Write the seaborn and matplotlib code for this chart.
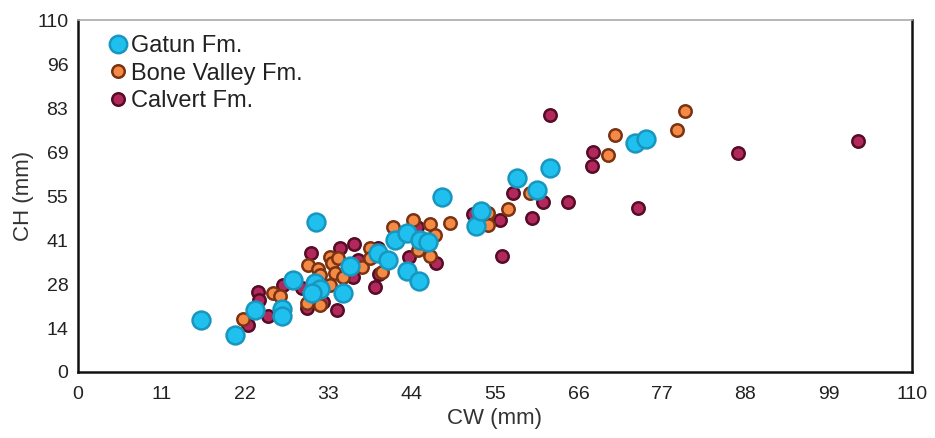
import matplotlib
matplotlib.use("Agg")
import matplotlib.pyplot as plt
import seaborn as sns
import pandas as pd
from matplotlib.lines import Line2D

series_names = ["Gatun Fm.", "Bone Valley Fm.", "Calvert Fm."]

gatun_cw = [16.2, 20.7, 23.4, 26.9, 26.9, 28.4, 31.4, 31.3, 31.9, 30.9, 35.0, 35.9, 39.6, 40.9,
            41.8, 43.4, 43.4, 45.0, 45.1, 46.2, 48.0, 52.5, 53.2, 57.9, 60.6, 62.3, 73.5, 74.9]
gatun_ch = [16.3, 11.6, 19.4, 19.7, 17.5, 28.8, 46.9, 27.8, 25.9, 24.7, 24.7, 33.1, 37.2, 35.0,
            41.3, 43.4, 31.6, 28.4, 41.3, 40.6, 54.7, 45.6, 50.3, 60.6, 56.9, 63.8, 71.6, 72.8]

bone_cw = [21.8, 25.7, 26.6, 30.3, 31.7, 31.9, 33.2, 33.5, 33.9, 33.2, 30.2, 31.9, 34.3, 35.0,
           37.5, 38.5, 38.5, 40.1, 45.8, 41.6, 44.2, 46.4, 49.1, 47.1, 44.9, 46.4, 59.6, 54.1,
           56.7, 54.1, 69.9, 70.8, 79.0, 80.1]
bone_ch = [16.6, 24.7, 23.8, 33.4, 32.2, 30.3, 35.9, 34.1, 30.9, 27.2, 21.6, 20.9, 35.6, 29.7,
           32.8, 38.8, 35.6, 31.3, 39.5, 45.3, 47.5, 46.3, 46.6, 42.8, 38.1, 36.3, 55.9, 49.7,
           50.9, 45.9, 67.8, 74.1, 75.6, 81.6]

calvert_cw = [30.7, 27.0, 29.6, 23.7, 23.9, 32.3, 30.2, 34.2, 25.1, 22.4, 34.6, 36.4, 39.6, 36.9,
              36.3, 39.2, 39.7, 43.7, 44.7, 47.2, 52.1, 55.7, 59.9, 57.4, 61.3, 64.6, 55.9, 67.9,
              67.8, 62.3, 73.9, 87.1, 102.9]
calvert_ch = [37.2, 27.2, 26.3, 25.0, 22.5, 21.9, 20.0, 19.4, 17.5, 14.7, 38.8, 40.0, 38.8, 35.0,
              29.7, 26.6, 30.6, 35.9, 45.3, 34.1, 49.4, 47.5, 48.1, 55.9, 53.1, 53.1, 36.3, 68.8,
              64.4, 80.3, 51.3, 68.4, 72.2]

x_ticks = [0, 11, 22, 33, 44, 55, 66, 77, 88, 99, 110]
y_tick_labels = ["0", "14", "28", "41", "55", "69", "83", "96", "110"]

df = pd.concat([
    pd.DataFrame({"CW": gatun_cw, "CH": gatun_ch, "Formation": series_names[0]}),
    pd.DataFrame({"CW": bone_cw, "CH": bone_ch, "Formation": series_names[1]}),
    pd.DataFrame({"CW": calvert_cw, "CH": calvert_ch, "Formation": series_names[2]}),
])

sns.set_style("white")
plt.rcParams["font.family"] = ["Liberation Sans", "DejaVu Sans"]

fig = plt.figure(figsize=(9.35, 4.38), dpi=100)
ax = fig.add_axes([0.0834, 0.1507, 0.892, 0.8033])

styles = {
    "Gatun Fm.": dict(fc="#1FC0EE", ec="#1796C0", s=165, z=4),
    "Bone Valley Fm.": dict(fc="#F58A47", ec="#7A3312", s=80, z=3),
    "Calvert Fm.": dict(fc="#B3285C", ec="#560C26", s=80, z=2),
}

for name in ["Calvert Fm.", "Bone Valley Fm.", "Gatun Fm."]:
    st = styles[name]
    sns.scatterplot(data=df[df["Formation"] == name], x="CW", y="CH", ax=ax,
                    color=st["fc"], edgecolor=st["ec"], linewidth=1.8, s=st["s"],
                    zorder=st["z"], label=name, legend=False)

ax.set_xlim(0, 110)
ax.set_ylim(0, 110)
ax.set_xticks(x_ticks)
ax.set_xticklabels([str(t) for t in x_ticks])
y_pos = [110 / 8 * i for i in range(9)]
ax.set_yticks(y_pos)
ax.set_yticklabels(y_tick_labels)
ax.tick_params(axis="x", direction="in", length=4, width=1.2, labelsize=14, pad=10, colors="#222222")
ax.tick_params(axis="y", direction="out", length=4, width=1.2, labelsize=14, pad=3, colors="#222222")
ax.set_xlabel("CW (mm)", fontsize=16, color="#333333", labelpad=4)
ax.set_ylabel("CH (mm)", fontsize=16, color="#333333", labelpad=2)

for side in ["left", "bottom", "right"]:
    ax.spines[side].set_color("#111111")
    ax.spines[side].set_linewidth(1.8)
ax.spines["top"].set_color("#aaaaaa")
ax.spines["top"].set_linewidth(1.2)

handles = []
for i, name in enumerate(series_names):
    handles.append(Line2D([], [], marker="o", linestyle="none", markersize=12.5 if i == 0 else 9,
                          markerfacecolor=styles[name]["fc"], markeredgecolor=styles[name]["ec"],
                          markeredgewidth=1.8))
ax.legend(handles, series_names, loc="upper left", bbox_to_anchor=(0.02, 0.99), frameon=False,
          fontsize=17, handletextpad=0.05, labelspacing=0.22, handlelength=1.0, borderaxespad=0.1,
          labelcolor="#222222")

fig.savefig("out.png", dpi=100)
